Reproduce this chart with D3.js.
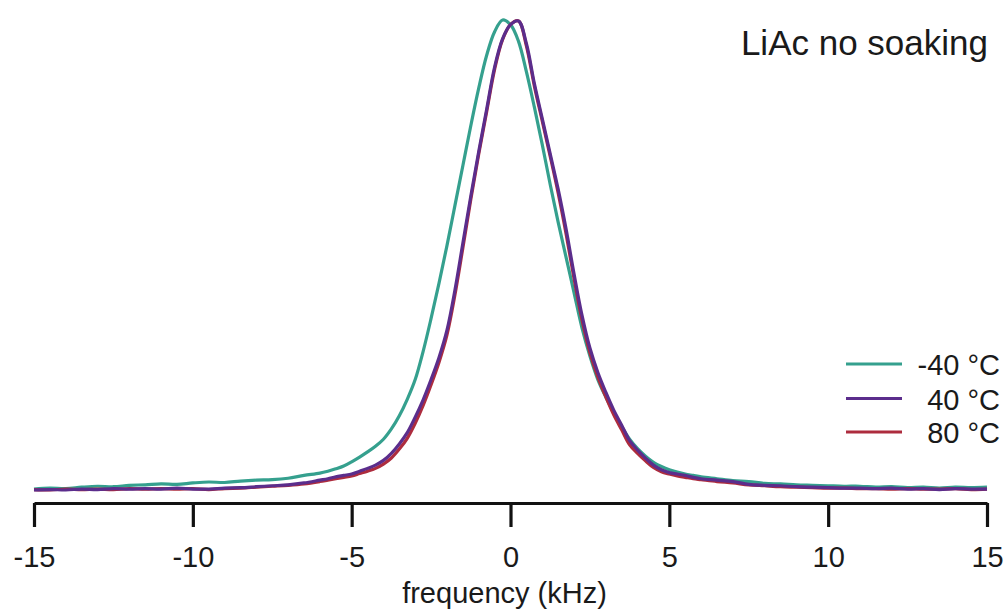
<!DOCTYPE html>
<html>
<head>
<meta charset="utf-8">
<script src="https://cdn.jsdelivr.net/npm/d3@7"></script>
<style>
  html, body { margin: 0; padding: 0; background: #fff; }
  svg { display: block; }
  text { font-family: "Liberation Sans", Arial, sans-serif; fill: #1a1a1a; }
</style>
</head>
<body>
<svg id="chart" width="1006" height="612"></svg>
<script>
// ---- data ----
const frequency = [-15,-14.5,-14,-13.5,-13,-12.5,-12,-11.5,-11,-10.5,-10,-9.5,-9,-8.5,-8,-7.5,-7,-6.5,-6,
  -5.75,-5.5,-5.25,-5,-4.75,-4.5,-4.25,-4,-3.75,-3.5,-3.25,-3,-2.75,-2.5,-2.25,-2,-1.75,-1.5,-1.25,-1,-0.75,-0.5,-0.25,
  0,0.25,0.5,0.75,1,1.25,1.5,1.75,2,2.25,2.5,2.75,3,3.25,3.5,3.75,4,4.25,4.5,4.75,5,5.25,5.5,5.75,
  6,6.5,7,7.5,8,8.5,9,9.5,10,10.5,11,11.5,12,12.5,13,13.5,14,14.5,15];

const minus40 = [0.002,0.004,0.003,0.006,0.008,0.007,0.010,0.011,0.013,0.012,0.015,0.017,0.016,0.019,0.021,0.022,0.025,0.031,0.036,
  0.040,0.045,0.051,0.060,0.070,0.081,0.093,0.108,0.130,0.158,0.193,0.235,0.295,0.365,0.440,0.520,0.605,0.690,0.775,0.855,0.925,0.975,1.000,
  0.990,0.955,0.890,0.815,0.735,0.650,0.570,0.495,0.420,0.345,0.285,0.235,0.198,0.165,0.135,0.108,0.088,0.072,0.059,0.050,0.043,0.038,0.034,0.031,
  0.028,0.024,0.020,0.018,0.014,0.013,0.011,0.010,0.009,0.008,0.008,0.006,0.007,0.005,0.006,0.004,0.006,0.005,0.006];

const plus40 = [0.000,0.001,0.000,0.002,0.001,0.003,0.002,0.003,0.002,0.004,0.002,0.002,0.004,0.005,0.007,0.009,0.011,0.015,0.021,
  0.024,0.028,0.031,0.034,0.040,0.046,0.053,0.063,0.078,0.098,0.122,0.155,0.192,0.235,0.282,0.340,0.425,0.525,0.625,0.720,0.810,0.900,0.960,
  0.990,0.998,0.950,0.865,0.790,0.715,0.640,0.555,0.460,0.372,0.302,0.250,0.208,0.170,0.138,0.105,0.085,0.068,0.053,0.043,0.037,0.034,0.031,0.027,
  0.024,0.021,0.018,0.012,0.010,0.009,0.007,0.006,0.005,0.004,0.004,0.003,0.004,0.002,0.003,0.001,0.003,0.002,0.002];

const plus80 = [0.001,0.000,0.002,0.001,0.002,0.001,0.003,0.002,0.003,0.002,0.003,0.001,0.003,0.004,0.006,0.008,0.010,0.013,0.018,
  0.021,0.024,0.027,0.030,0.035,0.040,0.046,0.055,0.068,0.087,0.110,0.142,0.180,0.224,0.272,0.330,0.415,0.515,0.618,0.715,0.805,0.895,0.958,
  0.990,0.998,0.945,0.860,0.785,0.710,0.632,0.545,0.450,0.362,0.292,0.240,0.198,0.160,0.128,0.096,0.078,0.062,0.048,0.039,0.034,0.030,0.027,0.024,
  0.022,0.018,0.015,0.011,0.009,0.007,0.006,0.005,0.004,0.004,0.003,0.003,0.002,0.003,0.002,0.002,0.003,0.001,0.002];

const seriesNames = ["-40 °C", "40 °C", "80 °C"];
const seriesColors = ["#35a08e", "#5b2d8c", "#ad2c3e"];
const xTicks = [-15, -10, -5, 0, 5, 10, 15];
const titleText = "LiAc no soaking";
const xLabel = "frequency (kHz)";

// ---- drawing ----
const svg = d3.select("#chart");
const x = d3.scaleLinear().domain([-15, 15]).range([34, 987]);
const y = d3.scaleLinear().domain([0, 1]).range([490, 20]);

const series = [
  { name: seriesNames[0], color: seriesColors[0], values: minus40 },
  { name: seriesNames[1], color: seriesColors[1], values: plus40 },
  { name: seriesNames[2], color: seriesColors[2], values: plus80 }
];

const line = d3.line()
  .x(d => x(d[0]))
  .y(d => y(d[1]))
  .curve(d3.curveCatmullRom.alpha(0.5));

// draw order: teal, red, purple on top
[series[0], series[2], series[1]].forEach(s => {
  svg.append("path")
    .datum(frequency.map((f, i) => [f, s.values[i]]))
    .attr("fill", "none")
    .attr("stroke", s.color)
    .attr("stroke-width", 3.2)
    .attr("stroke-linejoin", "round")
    .attr("d", line);
});

// x axis
const axis = svg.append("g")
  .attr("transform", "translate(0,503)")
  .call(d3.axisBottom(x).tickValues(xTicks).tickSize(24).tickSizeOuter(0).tickPadding(10)
        .tickFormat(d3.format("d")));
axis.select(".domain").attr("stroke", "#111").attr("stroke-width", 3.2);
axis.selectAll(".tick line").attr("stroke", "#111").attr("stroke-width", 3.2);
axis.selectAll(".tick text")
  .attr("font-family", "Liberation Sans, Arial, sans-serif")
  .attr("font-size", 29)
  .attr("fill", "#1a1a1a")
  .attr("y", 64)
  .attr("dy", 0)
  .text(d => d < 0 ? "-" + Math.abs(d) : String(d));

svg.append("text")
  .attr("x", x(0) - 6)
  .attr("y", 603)
  .attr("text-anchor", "middle")
  .attr("font-size", 29)
  .text(xLabel);

// title
svg.append("text")
  .attr("x", 988)
  .attr("y", 55)
  .attr("text-anchor", "end")
  .attr("font-size", 35)
  .text(titleText);

// legend
const legendY = [364, 398.5, 432];
series.forEach((s, i) => {
  svg.append("line")
    .attr("x1", 846).attr("x2", 902)
    .attr("y1", legendY[i]).attr("y2", legendY[i])
    .attr("stroke", s.color).attr("stroke-width", 3.2);
  svg.append("text")
    .attr("x", 1000)
    .attr("y", legendY[i] + 11)
    .attr("text-anchor", "end")
    .attr("font-size", 29)
    .text(s.name);
});
</script>
</body>
</html>
